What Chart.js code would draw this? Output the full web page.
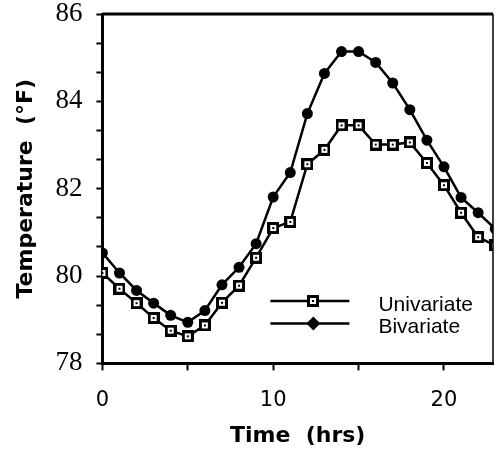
<!DOCTYPE html>
<html>
<head>
<meta charset="utf-8">
<script src="https://cdn.jsdelivr.net/npm/chart.js@4.4.1/dist/chart.umd.min.js"></script>
<style>
  html, body { margin: 0; padding: 0; background: #fff; }
  canvas { display: block; }
</style>
</head>
<body>
<canvas id="chart" width="495" height="449"></canvas>
<script>
// Hourly temperature estimates.
const HOURS = [0, 1, 2, 3, 4, 5, 6, 7, 8, 9, 10, 11, 12, 13, 14, 15, 16, 17, 18, 19, 20, 21, 22, 23];
const UNIVARIATE = [80.07, 79.71, 79.38, 79.04, 78.75, 78.62, 78.87, 79.39, 79.78, 80.42, 81.10, 81.24,
  82.56, 82.89, 83.45, 83.45, 83.01, 83.01, 83.06, 82.59, 82.08, 81.45, 80.89, 80.70];
const BIVARIATE = [80.53, 80.07, 79.67, 79.38, 79.10, 78.94, 79.21, 79.80, 80.20, 80.74, 81.81, 82.37,
  83.72, 84.64, 85.14, 85.14, 84.89, 84.42, 83.81, 83.11, 82.50, 81.80, 81.45, 81.08];

const SERIES_LABELS = ["Univariate", "Bivariate"];
const X_LABELED = [0, 10, 20];      // x ticks every 5 h, labels only on these
const Y_LABELED = [78, 80, 82, 84, 86]; // y ticks every 2/3 °F, labels only on these

const INK = "#000";

/** Open square with a dot in the middle, the "Univariate" marker. */
function squareMarker() {
  const c = document.createElement("canvas");
  c.width = 12;
  c.height = 12;
  const g = c.getContext("2d");
  g.fillStyle = INK;
  g.fillRect(0, 0, 12, 12);
  g.fillStyle = "#fff";
  g.fillRect(3, 3, 6, 6);
  g.fillStyle = INK;
  g.fillRect(5, 5, 2, 2);
  return c;
}

const SQUARE = squareMarker();

// Top and right edges of the plot box (the axes only give left + bottom).
const framePlugin = {
  id: "frame",
  afterDraw(chart) {
    const { ctx, chartArea: a } = chart;
    ctx.save();
    ctx.strokeStyle = INK;
    ctx.lineWidth = 3;
    ctx.beginPath();
    ctx.moveTo(a.left, a.top);
    ctx.lineTo(a.right, a.top);
    ctx.stroke();
    ctx.lineWidth = 1.5;
    ctx.beginPath();
    ctx.moveTo(a.right, a.top);
    ctx.lineTo(a.right, a.bottom);
    ctx.stroke();
    ctx.restore();
  },
};

// Legend sits inside the plot, line sample with the marker on it.
const insetLegend = {
  id: "insetLegend",
  afterDraw(chart) {
    const { ctx, chartArea: a } = chart;
    const x1 = a.left + 168;
    const x2 = a.left + 247;
    const mx = a.left + 211;
    const tx = a.left + 276;
    const rows = [a.top + 287, a.top + 309.5];

    ctx.save();
    ctx.strokeStyle = INK;
    ctx.fillStyle = INK;
    ctx.lineWidth = 2.5;
    ctx.font = '21px "Liberation Sans", Arial, sans-serif';
    ctx.textBaseline = "alphabetic";
    rows.forEach((y, i) => {
      ctx.beginPath();
      ctx.moveTo(x1, y);
      ctx.lineTo(x2, y);
      ctx.stroke();
      if (i === 0) {
        ctx.drawImage(SQUARE, Math.round(mx - 6), Math.round(y - 6));
      } else {
        ctx.beginPath();
        ctx.moveTo(mx, y - 7);
        ctx.lineTo(mx + 7, y);
        ctx.lineTo(mx, y + 7);
        ctx.lineTo(mx - 7, y);
        ctx.closePath();
        ctx.fill();
      }
      ctx.fillText(SERIES_LABELS[i], tx, y + 9.5);
    });
    ctx.restore();
  },
};

const isLabeled = (v, list) => list.some((t) => Math.abs(v - t) < 1e-6);

new Chart(document.getElementById("chart").getContext("2d"), {
  type: "line",
  data: {
    datasets: [
      {
        label: SERIES_LABELS[0],
        data: HOURS.map((h, i) => ({ x: h, y: UNIVARIATE[i] })),
        borderColor: INK,
        borderWidth: 2.5,
        tension: 0,
        pointStyle: SQUARE,
        pointRadius: 6,
      },
      {
        label: SERIES_LABELS[1],
        data: HOURS.map((h, i) => ({ x: h, y: BIVARIATE[i] })),
        borderColor: INK,
        borderWidth: 2.5,
        tension: 0,
        pointStyle: "circle",
        pointRadius: 5.5,
        pointBackgroundColor: INK,
        pointBorderWidth: 0,
      },
    ],
  },
  options: {
    responsive: false,
    animation: false,
    layout: { autoPadding: false, padding: { top: 14, right: 2, left: 13, bottom: 0 } },
    plugins: { legend: { display: false }, tooltip: { enabled: false } },
    scales: {
      x: {
        type: "linear",
        min: 0,
        max: 22.87,
        border: { display: true, color: INK, width: 3 },
        grid: { drawOnChartArea: false, drawTicks: true, tickLength: 7, tickWidth: 2, tickColor: INK },
        ticks: {
          stepSize: 5,
          includeBounds: false,
          autoSkip: false,
          maxRotation: 0,
          padding: 18,
          color: INK,
          font: { family: "DejaVu Sans", size: 21 },
          callback: (v) => (isLabeled(v, X_LABELED) ? String(Math.round(v)) : ""),
        },
        title: {
          display: true,
          text: "Time  (hrs)",
          color: INK,
          font: { family: "DejaVu Sans", size: 22, weight: "bold" },
          padding: { top: -9, bottom: 0 },
        },
      },
      y: {
        min: 78,
        max: 86,
        border: { display: true, color: INK, width: 3 },
        grid: { drawOnChartArea: false, drawTicks: true, tickLength: 6, tickWidth: 2, tickColor: INK },
        ticks: {
          stepSize: 2 / 3,
          autoSkip: false,
          padding: 14,
          color: INK,
          // zero line height keeps the top label from pushing the plot box down
          font: { family: "Liberation Serif", size: 27, lineHeight: 0 },
          callback: (v) => (isLabeled(v, Y_LABELED) ? String(Math.round(v)) : ""),
        },
        title: {
          display: true,
          text: "Temperature  (°F)",
          color: INK,
          font: { family: "DejaVu Sans", size: 22, weight: "bold" },
          padding: { top: 0, bottom: 2 },
        },
      },
    },
  },
  plugins: [framePlugin, insetLegend],
});
</script>
</body>
</html>
